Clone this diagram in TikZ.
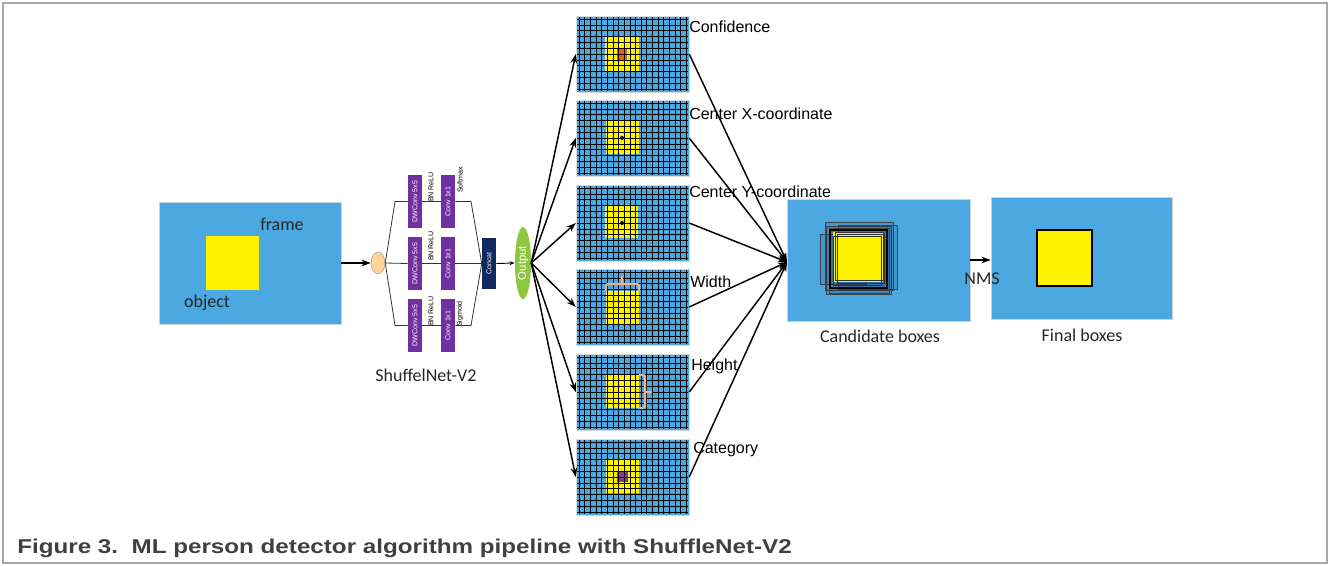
\documentclass[tikz,border=0pt]{standalone}
\usepackage{fontspec}
\setmainfont{Liberation Sans}
\newfontfamily\calfont{Carlito}
\usetikzlibrary{arrows.meta,shapes.geometric}
\definecolor{skyb}{HTML}{4BA8E0}
\definecolor{purp}{HTML}{7030A0}
\definecolor{navyc}{HTML}{0F2A5C}
\definecolor{outg}{HTML}{8DC63F}
\definecolor{peach}{HTML}{FFD497}
\definecolor{redc}{HTML}{EC5B24}
\definecolor{catc}{HTML}{7E3F93}
\definecolor{braceor}{HTML}{F4B183}
\definecolor{capc}{HTML}{404040}
\tikzset{
 panel/.style={fill=skyb, draw=gray!30, line width=0.3pt, minimum width=84.75pt, minimum height=57pt, inner sep=0pt},
 bigbox/.style={fill=skyb, draw=gray!35, line width=0.4pt, inner sep=0pt, minimum height=91.5pt},
 blk/.style={fill=purp, minimum height=10.5pt, minimum width=39.75pt, inner sep=0pt, text=white, font=\fontsize{5.3}{6}\selectfont, rotate=90},
 tiny/.style={font=\fontsize{5.3}{6}\selectfont, rotate=90, inner sep=0pt},
 conn/.style={line width=1.1pt, -{Stealth[length=7pt,width=5pt]}},
 thinl/.style={line width=0.6pt, draw=black!80},
 lab/.style={font=\fontsize{12}{14}\selectfont, anchor=west, inner sep=0pt},
 clab/.style={font=\calfont\fontsize{13.5}{16}\selectfont, inner sep=0pt, text=black!85},
 bracel/.style={draw=braceor, line width=1.6pt, rounded corners=1.5pt},
 gridl/.style={draw=black, line width=0.5pt},
 candr/.style={draw=black!75, line width=0.5pt, fill=navyc, fill opacity=0.12},
}
\begin{document}
\begin{tikzpicture}[x=0.75pt,y=-0.75pt]
\useasboundingbox (0,0) rectangle (1333,565);
\draw[gray!70, line width=0.9pt] (3,3) rectangle (1327,563);

% input frame
\node[bigbox, minimum width=136.5pt] (frame) at (250,263) {};
\fill[yellow] (206,236) rectangle (259,290);
\node[clab, anchor=west] (frametxt) at (260,224) {frame};
\node[clab] (objtxt) at (207,303) {object};

% ShuffleNet block
\node[ellipse, fill=peach, draw=gray!70, line width=0.4pt, minimum width=10.5pt, minimum height=16.5pt, inner sep=0pt] (oval) at (378,263) {};
\draw[conn] (frame.east) -- (oval.west);

\foreach \n/\y in {1/201.5,2/263.5,3/325.5}{
  \node[blk] (dw\n) at (415,\y) {DWConv 5x5};
  \node[blk] (cv\n) at (448,\y) {Conv 1x1};
}
\node[blk, fill=navyc, minimum width=38.25pt] (concat) at (489,263.5) {Concat};
\node[ellipse, fill=outg, minimum width=12pt, minimum height=54pt, inner sep=0pt] (out) at (523,263) {};
\node[rotate=90, text=white, font=\fontsize{8.5}{9}\selectfont, inner sep=0pt] (outtxt) at (out.center) {Output};

\draw[thinl] (oval.east) -- (395,201.5) -- (dw1.north);
\draw[thinl] (oval.east) -- (dw2.north);
\draw[thinl] (oval.east) -- (395,325.5) -- (dw3.north);
\foreach \n in {1,2,3}{ \draw[thinl] (dw\n.south) -- (cv\n.north); }
\draw[thinl] (cv1.south) -- (471,201.5) -- (concat.north);
\draw[thinl] (cv2.south) -- (concat.north);
\draw[thinl] (cv3.south) -- (471,325.5) -- (concat.north);
\draw[line width=0.7pt, -{Stealth[length=4pt,width=3pt]}] (concat.south) -- (out.west);

\node[tiny] (bn1) at (431,187) {BN ReLU};
\node[tiny] (bn2) at (431,246) {BN ReLU};
\node[tiny] (bn3) at (431,311) {BN ReLU};
\node[tiny] (smx) at (460,180) {Softmax};
\node[tiny] (sgm) at (460,314) {Sigmoid};
\node[clab] (snet) at (426,375) {ShuffelNet-V2};

% output panels
\foreach \i/\t in {1/16,2/100,3/185,4/269,5/354,6/439}{
  \node[panel] (p\i) at (632.5,{\t+38}) {};
}
\fill[yellow] (605,37) rectangle (639,72);
\fill[yellow] (606,121) rectangle (639,154);
\fill[yellow] (605,205) rectangle (638,238);
\fill[yellow] (606,291) rectangle (639,324);
\fill[yellow] (606,375) rectangle (639,408);
\fill[yellow] (606,460) rectangle (639,493);
\fill[redc] (617,49) rectangle (627,60);
\fill[catc] (617,471) rectangle (628,482);
\foreach \t in {16,100,185,269,354,439}{
  \foreach \k in {0,...,19}{ \draw[gridl] ({579+5.65*\k},{\t+1}) -- ({579+5.65*\k},{\t+75}); }
  \foreach \k in {0,...,12}{ \draw[gridl] (577,{\t+3+5.85*\k}) -- (688,{\t+3+5.85*\k}); }
}
\fill[black] (622,138) circle (2);
\fill[black] (622,223) circle (2);
\draw[bracel] (606,291) -- (606,284) -- (639,284) -- (639,291);
\draw[bracel] (622,284) -- (622,276);
\draw[bracel] (639,375) -- (645,375) -- (645,408) -- (639,408);
\draw[bracel] (645,392) -- (652,392);

\node[lab] (l1) at (689,27) {Confidence};
\node[lab] (l2) at (689,114) {Center X-coordinate};
\node[lab] (l3) at (689,192) {Center Y-coordinate};
\node[lab] (l4) at (690,282) {Width};
\node[lab] (l5) at (691,366) {Height};
\node[lab] (l6) at (693,450) {Category};

\foreach \i in {1,...,6}{ \draw[conn] (out.east) -- (p\i.west); }

% candidate boxes
\node[bigbox, minimum width=137.25pt] (cand) at (878.5,260) {};
\coordinate (conv) at (787,262);
\foreach \i in {1,...,6}{ \draw[conn] (p\i.east) -- (conv); }
\draw[candr] (825,222) rectangle (893,290);
\draw[candr] (826,226) rectangle (891,294);
\draw[candr] (820,234) rectangle (866,284);
\draw[candr] (838,225) rectangle (897,289);
\draw[candr] (829,228) rectangle (889,293);
\fill[yellow] (833,232) rectangle (883,282);
\draw[black, line width=1.1pt] (830,230) rectangle (887,288);
\draw[black!80, line width=0.45pt] (835,232) rectangle (883,280);
\draw[black!80, line width=0.45pt] (837,234) rectangle (884,283);
\draw[black!80, line width=0.45pt] (833,236) rectangle (881,285);
\node[clab] (candtxt) at (880,336) {Candidate boxes};

% final boxes
\node[bigbox, minimum width=135.75pt] (fin) at (1081.5,258) {};
\draw[black, line width=2pt, fill=yellow] (1037,230) rectangle (1092,286);
\draw[conn] (cand.east) -- (cand.east -| fin.west);
\node[clab] (nms) at (982,279) {NMS};
\node[clab] (fintxt) at (1082,335) {Final boxes};

% caption
\node[anchor=base west, inner sep=0pt, text=capc, font=\bfseries\fontsize{15}{18}\selectfont, xscale=1.21, transform shape] (cap) at (17,553) {Figure 3.\ \ ML person detector algorithm pipeline with ShuffleNet-V2};
\end{tikzpicture}
\end{document}
